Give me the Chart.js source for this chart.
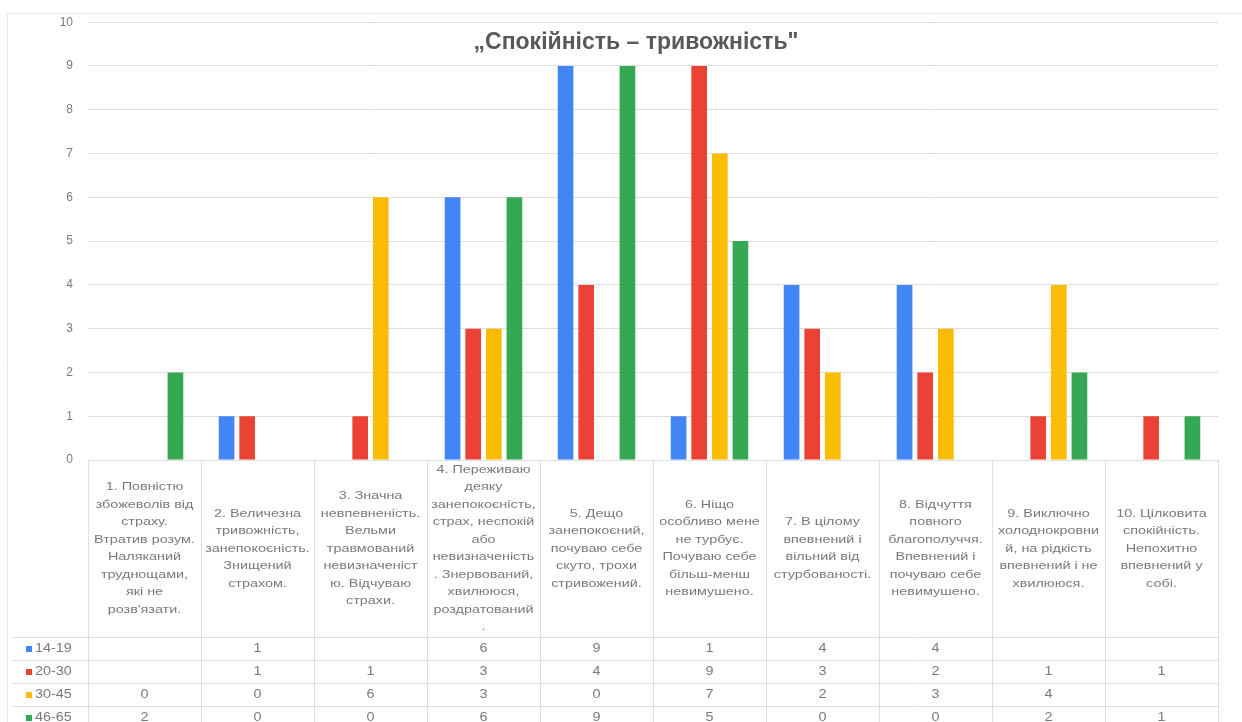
<!DOCTYPE html>
<html>
<head>
<meta charset="utf-8">
<script src="https://cdn.jsdelivr.net/npm/chart.js@4"></script>
<style>
  html, body { margin: 0; padding: 0; background: #ffffff; }
  #wrap { width: 1242px; height: 722px; }
</style>
</head>
<body>
<div id="wrap"><canvas id="c" width="1242" height="722"></canvas></div>
<script>
// Survey answers: how many respondents of each age group picked each level
const chartTitle = '„Спокійність – тривожність"';

const categories = [
  ['1. Повністю', 'збожеволів від', 'страху.', 'Втратив розум.', 'Наляканий', 'труднощами,', 'які не', 'розв\'язати.'],
  ['2. Величезна', 'тривожність,', 'занепокоєність.', 'Знищений', 'страхом.'],
  ['3. Значна', 'невпевненість.', 'Вельми', 'травмований', 'невизначеніст', 'ю. Відчуваю', 'страхи.'],
  ['4. Переживаю', 'деяку', 'занепокоєність,', 'страх, неспокій', 'або', 'невизначеність', '. Знервований,', 'хвилююся,', 'роздратований', '.'],
  ['5. Дещо', 'занепокоєний,', 'почуваю себе', 'скуто, трохи', 'стривожений.'],
  ['6. Ніщо', 'особливо мене', 'не турбує.', 'Почуваю себе', 'більш-менш', 'невимушено.'],
  ['7. В цілому', 'впевнений і', 'вільний від', 'стурбованості.'],
  ['8. Відчуття', 'повного', 'благополуччя.', 'Впевнений і', 'почуваю себе', 'невимушено.'],
  ['9. Виключно', 'холоднокровни', 'й, на рідкість', 'впевнений і не', 'хвилююся.'],
  ['10. Цілковита', 'спокійність.', 'Непохитно', 'впевнений у', 'собі.']
];

const seriesNames = ['14-19', '20-30', '30-45', '46-65'];
const age14to19 = [null, 1, null, 6, 9, 1, 4, 4, null, null];
const age20to30 = [null, 1, 1, 3, 4, 9, 3, 2, 1, 1];
const age30to45 = [0, 0, 6, 3, 0, 7, 2, 3, 4, null];
const age46to65 = [2, 0, 0, 6, 9, 5, 0, 0, 2, 1];
const seriesColors = ['#4285F4', '#EA4335', '#FBBC04', '#34A853'];

const yTicks = [0, 1, 2, 3, 4, 5, 6, 7, 8, 9, 10];

const seriesValues = [age14to19, age20to30, age30to45, age46to65];

const TEXT = '#7a7a7a';
const LINE = '#dedede';
const FONT = '"Liberation Sans", Arial, sans-serif';

// text drawn slightly widened, like the table font of the sheet
function wideText(ctx, t, x, y, sx) {
  ctx.save();
  ctx.translate(x, y);
  ctx.scale(sx, 1);
  ctx.fillText(t, 0, 0);
  ctx.restore();
}

// Title, data table and category cells drawn under the plot
const tablePlugin = {
  id: 'dataTable',
  afterDraw(chart) {
    const ctx = chart.ctx;
    const area = chart.chartArea;
    const xs = chart.scales.x;
    const W = chart.width, H = chart.height;
    const n = categories.length;
    const step = xs.getPixelForValue(1) - xs.getPixelForValue(0);
    const labelBottom = 637;
    const rowH = 23;
    ctx.save();

    // outer frame
    ctx.strokeStyle = '#e6e6e6';
    ctx.lineWidth = 1;
    ctx.beginPath();
    ctx.moveTo(7.5, H);
    ctx.lineTo(7.5, 13.5);
    ctx.lineTo(W, 13.5);
    ctx.stroke();

    // title
    ctx.fillStyle = '#595959';
    ctx.font = 'bold 23px ' + FONT;
    ctx.textAlign = 'center';
    ctx.textBaseline = 'middle';
    ctx.fillText(chartTitle, 636, 43);

    // vertical cell borders
    ctx.strokeStyle = LINE;
    ctx.beginPath();
    for (let i = 0; i <= n; i++) {
      const x = Math.round(xs.getPixelForValue(0) - step / 2 + i * step) + 0.5;
      ctx.moveTo(x, area.bottom);
      ctx.lineTo(x, H);
    }
    // horizontal row borders
    for (let r = 0; r <= seriesNames.length; r++) {
      const y = labelBottom + r * rowH + 0.5;
      ctx.moveTo(12, y);
      ctx.lineTo(area.right, y);
    }
    ctx.stroke();

    // category labels
    ctx.fillStyle = TEXT;
    ctx.font = '11.5px ' + FONT;
    const lh = 17.5;
    const mid = (area.bottom + labelBottom) / 2;
    for (let i = 0; i < n; i++) {
      const cx = xs.getPixelForValue(i);
      const lines = categories[i];
      const y0 = mid - (lines.length - 1) * lh / 2;
      lines.forEach((t, k) => wideText(ctx, t, cx, y0 + k * lh, 1.25));
    }

    // series rows
    for (let r = 0; r < seriesNames.length; r++) {
      const cy = labelBottom + r * rowH + rowH / 2 + 0.5;
      ctx.fillStyle = seriesColors[r];
      ctx.fillRect(26, cy - 3, 6, 6);
      ctx.fillStyle = TEXT;
      ctx.textAlign = 'left';
      ctx.font = '12.5px ' + FONT;
      wideText(ctx, seriesNames[r], 35, cy, 1.15);
      ctx.textAlign = 'center';
      seriesValues[r].forEach((v, i) => {
        if (v !== null) wideText(ctx, String(v), xs.getPixelForValue(i), cy, 1.15);
      });
    }
    ctx.restore();
  }
};

new Chart(document.getElementById('c'), {
  type: 'bar',
  data: {
    labels: categories.map(c => c[0]),
    datasets: seriesNames.map((name, k) => ({
      label: name,
      data: seriesValues[k],
      backgroundColor: seriesColors[k],
      borderWidth: 0,
      categoryPercentage: 0.73,
      barPercentage: 0.76
    }))
  },
  options: {
    responsive: false,
    devicePixelRatio: 1,
    animation: false,
    layout: { padding: { left: 0, right: 24, top: 20, bottom: 262 } },
    plugins: {
      legend: { display: false },
      title: { display: false },
      tooltip: { enabled: false }
    },
    scales: {
      x: { display: false },
      y: {
        min: 0,
        max: 10,
        afterFit(scale) { scale.width = 88; },
        afterBuildTicks(scale) { scale.ticks = yTicks.map(v => ({ value: v })); },
        border: { display: false },
        grid: { color: '#dedede', drawTicks: false },
        ticks: { color: TEXT, padding: 15, font: { family: FONT, size: 12 } }
      }
    }
  },
  plugins: [tablePlugin]
});
</script>
</body>
</html>
